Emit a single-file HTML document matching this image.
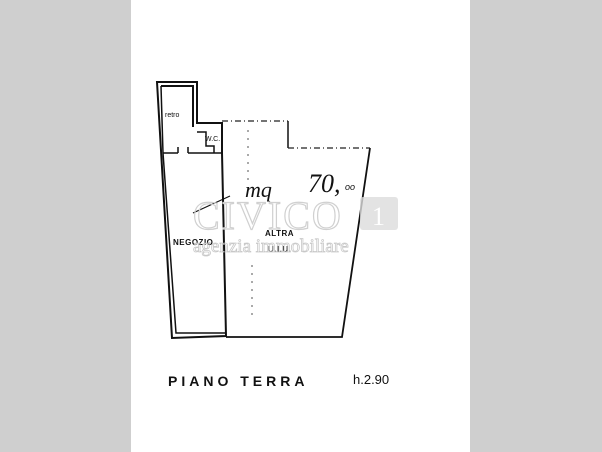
<!DOCTYPE html>
<html><head><style>
html,body{margin:0;padding:0;width:602px;height:452px;overflow:hidden;background:#fff}
.side{position:absolute;top:0;height:452px;background:#cfcfcf}
</style></head><body>
<div class="side" style="left:0;width:131px"></div>
<div class="side" style="left:470px;width:132px"></div>
<svg width="602" height="452" style="position:absolute;left:0;top:0" font-family="Liberation Sans, sans-serif">
<g stroke="#111" fill="none" stroke-width="2">
<path d="M157,82 L197,82 L197,123 L222,123 L222,153 L226,336 L172,338 Z"/>
<path d="M161,86 L193,86 L193,127"/>
<path d="M161,86 L163,153 L176,333 L226,333" stroke-width="1.5"/>
<path d="M163,153 L178,153 M188,153 L222,153 M178,147 L178,153 M188,147 L188,153" stroke-width="1.5"/>
<path d="M197,132 L206,132 L206,146 L214,146 L214,153" stroke-width="1.5"/>
<path d="M226,337 L342,337 L370,148" stroke-width="1.8"/>
<path d="M288,121 L288,148" stroke-width="1.5"/>
</g>
<path d="M222,121 L288,121 M288,148 L370,148" stroke="#222" stroke-width="1.3" stroke-dasharray="6,3,1,3" fill="none"/>
<path d="M248,130 L248,180 M252,265 L252,320" stroke="#555" stroke-width="1" stroke-dasharray="2,6"/>
<path d="M193,213 L230,196" stroke="#111" stroke-width="1.2"/>
<text x="165" y="117" font-size="7" fill="#111">retro</text>
<text x="205" y="141" font-size="7" fill="#111">W.C.</text>
<text x="173" y="245" font-size="8" font-weight="bold" fill="#111" letter-spacing="0.5">NEGOZIO</text>
<text x="265" y="236" font-size="8" font-weight="bold" fill="#111" letter-spacing="0.5">ALTRA</text>
<text x="268" y="252" font-size="8" font-weight="bold" fill="#111" letter-spacing="0.5">U.I.U.</text>
<text x="245" y="197" font-size="22" font-style="italic" font-family="Liberation Serif, serif" fill="#111">mq</text>
<text x="308" y="192" font-size="26" font-style="italic" font-family="Liberation Serif, serif" fill="#111">70,</text>
<text x="345" y="190" font-size="9" font-style="italic" fill="#111">oo</text>
<text x="193" y="229" font-size="40" font-family="Liberation Serif, serif" fill="none" stroke="#d0d0d0" stroke-width="1.2" letter-spacing="2">CIVICO</text>
<rect x="360" y="197" width="38" height="33" rx="3" fill="#dcdcdc" opacity="0.8"/>
<text x="372" y="225" font-size="26" font-family="Liberation Serif, serif" fill="#fff">1</text>
<text x="193" y="252" font-size="19" font-family="Liberation Serif, serif" fill="none" stroke="#c8c8c8" stroke-width="0.8">agenzia immobiliare</text>
<text x="168" y="386" font-size="14" font-weight="bold" fill="#111" letter-spacing="4">PIANO  TERRA</text>
<text x="353" y="384" font-size="13" fill="#111">h.2.90</text>
</svg>
</body></html>
